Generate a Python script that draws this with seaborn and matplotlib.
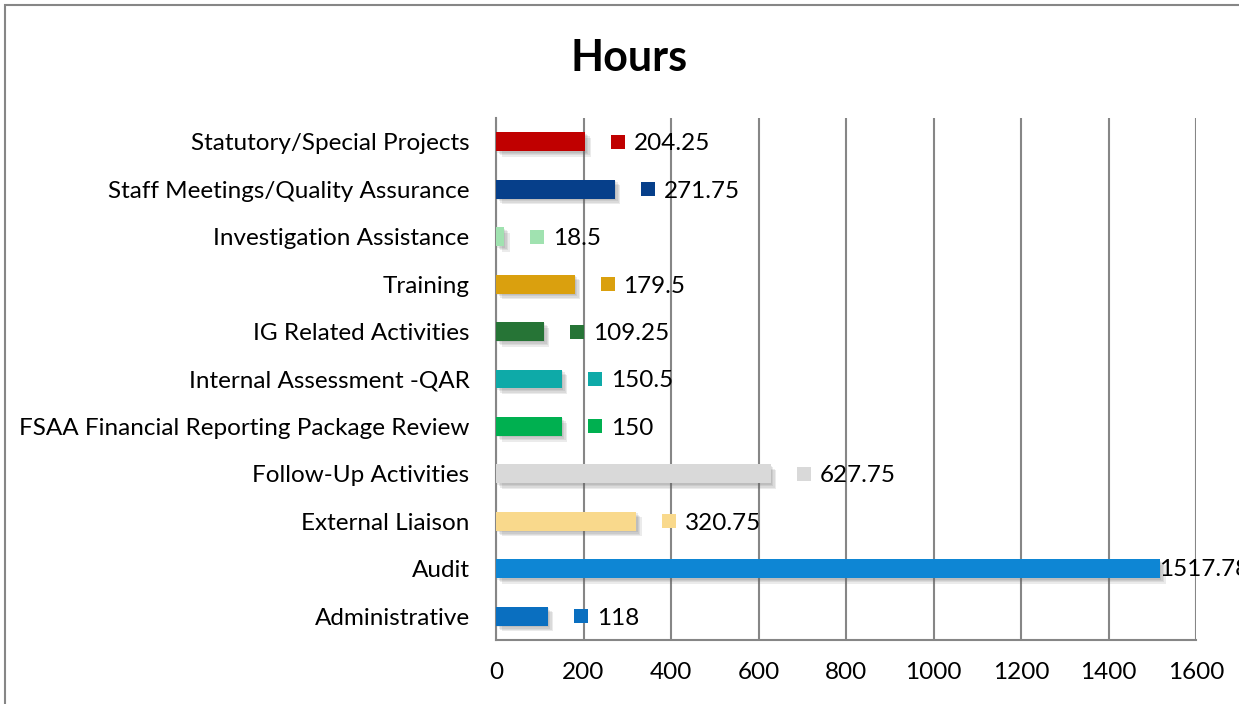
import numpy as np
import pandas as pd
import matplotlib
matplotlib.use('Agg')
import seaborn as sns
from matplotlib import pyplot as plt
from matplotlib import patheffects as pe
from matplotlib import transforms as mtrans
from matplotlib.patches import Rectangle

# data, top to bottom as shown
categories = ['Statutory/Special Projects', 'Staff Meetings/Quality Assurance',
              'Investigation Assistance', 'Training', 'IG Related Activities',
              'Internal Assessment -QAR', 'FSAA Financial Reporting Package Review',
              'Follow-Up Activities', 'External Liaison', 'Audit', 'Administrative']
hours = [204.25, 271.75, 18.5, 179.5, 109.25, 150.5, 150, 627.75, 320.75, 1517.78, 118]
value_labels = ['204.25', '271.75', '18.5', '179.5', '109.25', '150.5', '150',
                '627.75', '320.75', '1517.78', '118']
colors = ['#C00000', '#063F8A', '#A0E2B0', '#DAA00E', '#267436', '#0EAAA8',
          '#00B050', '#D9D9D9', '#F9D98C', '#0E86D4', '#0A6FC0']
x_ticks = [0, 200, 400, 600, 800, 1000, 1200, 1400, 1600]

pd_data = pd.DataFrame({'Category': categories, 'Hours': hours})

sns.set_style("white")
plt.rcParams['font.family'] = ['Lato', 'DejaVu Sans']
plt.rcParams['text.color'] = 'black'
plt.rcParams['xtick.color'] = 'black'
plt.rcParams['ytick.color'] = 'black'

fig = plt.figure(figsize=(12.39, 7.04), dpi=100)
ax = fig.add_axes([496/1239, 1-640/704, 700/1239, 522/704])

sns.barplot(data=pd_data, y='Category', x='Hours', hue='Category', order=categories,
            hue_order=categories, palette=colors, legend=False, width=0.4,
            saturation=1, orient='h', ax=ax, zorder=3)

# soft shadow: a few faint offset copies
shadow = [pe.SimplePatchShadow(offset=(o, -o), shadow_rgbFace='#606060', alpha=0.12)
          for o in (1.0, 2.0, 3.0, 4.0)]
for bar in ax.patches:
    bar.set_edgecolor('none')
    bar.set_path_effects(shadow + [pe.Normal()])

ax.set_xlim(0, 1600)
ax.set_ylim(len(categories)-0.5, -0.5)
ax.set_xticks(x_ticks)
ax.set_xticklabels([str(t) for t in x_ticks], fontsize=17.5)
ax.set_yticks(range(len(categories)))
ax.set_yticklabels(categories, fontsize=17.5)
ax.set_yticks([i-0.5 for i in range(len(categories)+1)], minor=True)
ax.tick_params(axis='y', which='major', length=0, pad=19, labelcolor='black')
ax.tick_params(axis='y', which='minor', length=6, color='#868686', width=1.5)
ax.tick_params(axis='x', which='major', length=6, color='#868686', width=1.5, pad=10,
               labelcolor='black')
ax.set_xlabel('')
ax.set_ylabel('')

ax.grid(axis='x', color='#868686', linewidth=1.5, zorder=0)
ax.set_axisbelow(True)
for s in ['top', 'right']:
    ax.spines[s].set_visible(False)
for s in ['left', 'bottom']:
    ax.spines[s].set_color('#868686')
    ax.spines[s].set_linewidth(1.5)

# data labels with legend keys
ax_right = ax.transAxes.transform((1, 0))[0]
for i, (val, lab, col) in enumerate(zip(hours, value_labels, colors)):
    end_px = ax.transData.transform((val, i))[0]
    if end_px + 150 > ax_right + 40:
        # too close to the edge: label sits right at the bar end
        ax.annotate(lab, xy=(val, i), xytext=(-1, -1), textcoords='offset pixels',
                    ha='left', va='center', fontsize=17.5, color='black', zorder=5,
                    annotation_clip=False)
        continue
    key_tr = mtrans.offset_copy(ax.transData, fig=fig, x=33, y=0, units='dots')
    ax.scatter([val], [i], marker='s', s=112, color=col, transform=key_tr, zorder=5,
               clip_on=False, linewidths=0)
    ax.annotate(lab, xy=(val, i), xytext=(49, -2), textcoords='offset pixels',
                ha='left', va='center', fontsize=17.5, color='black', zorder=5,
                annotation_clip=False)

fig.text(629/1239, 1-58/704, 'Hours', ha='center', va='center', fontsize=31,
         fontweight='bold', color='black')

# outer chart frame
fig.patches.append(Rectangle((5/1239, -0.05), 1.1, 1-5/704+0.05, transform=fig.transFigure,
                             fill=False, edgecolor='#868686', linewidth=1.5))

plt.savefig('out.png', dpi=100)
